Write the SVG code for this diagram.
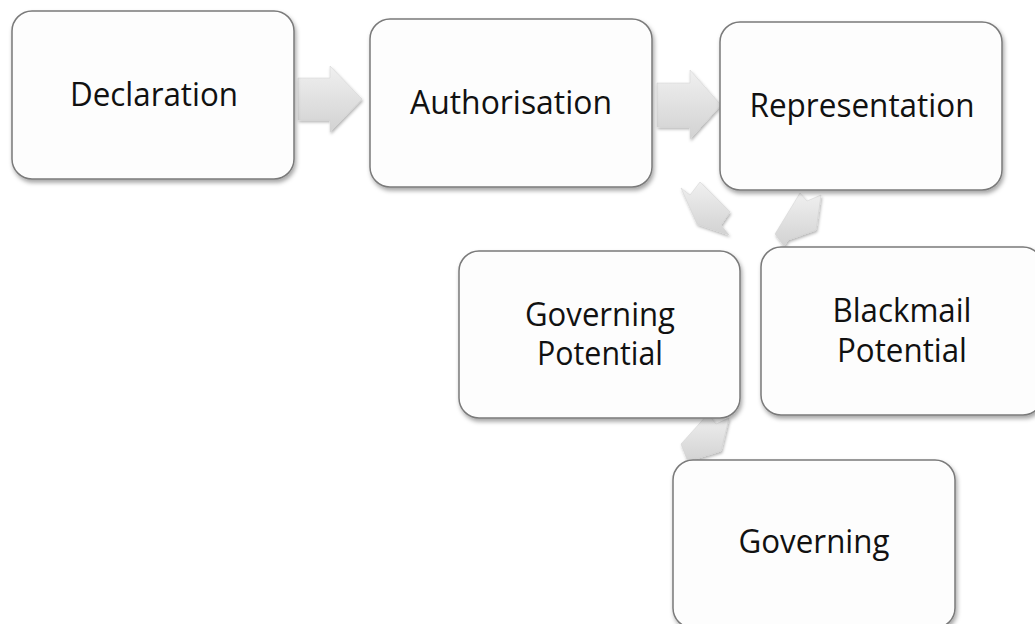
<svg xmlns="http://www.w3.org/2000/svg" width="1035" height="624" viewBox="0 0 1035 624">
<defs>
<filter id="sh" x="-10%" y="-10%" width="120%" height="130%">
<feDropShadow dx="1.5" dy="3" stdDeviation="2" flood-color="#000" flood-opacity="0.35"/>
</filter>
<filter id="ash" x="-20%" y="-20%" width="150%" height="150%">
<feDropShadow dx="1" dy="2" stdDeviation="1.5" flood-color="#000" flood-opacity="0.3"/>
</filter>
<linearGradient id="ag" x1="0" y1="0" x2="0" y2="1">
<stop offset="0" stop-color="#f0f0f0"/>
<stop offset="1" stop-color="#d2d2d2"/>
</linearGradient>
</defs>
<style>
.box{fill:#fdfdfd;stroke:#7a7a7a;stroke-width:1.5;filter:url(#sh)}
.arr{fill:url(#ag);stroke:#d0d0d0;stroke-width:0.5;filter:url(#ash)}
text{font-family:"Open Sans","Noto Sans","Liberation Sans",sans-serif;font-size:32px;fill:#111;text-anchor:middle}
</style>
<rect width="1035" height="624" fill="#ffffff"/>
<g id="connectors">
<polygon class="arr" points="298,78 330,78 330,66 362,99 330,132 330,120 298,120"/>
<polygon class="arr" points="657,83 690,83 690,70 721,105 690,139 690,127 657,127"/>
<polygon class="arr" points="681,188 690,195 700,182 730,212 721,225 729,235 697,224"/>
<polygon class="arr" points="775,234 800,193 807,201 821,195 816,230 788,240 784,246"/>
<polygon class="arr" points="681,444 708,414 716,424 729,418 721,451 695,459 688,462"/>
</g>
<g id="declaration">
<rect class="box" x="12" y="11" width="282" height="168" rx="20"/>
<text x="154" y="106" textLength="168" lengthAdjust="spacingAndGlyphs">Declaration</text>
</g>
<g id="authorisation">
<rect class="box" x="370" y="19" width="282" height="168" rx="20"/>
<text x="511" y="114" textLength="202" lengthAdjust="spacingAndGlyphs">Authorisation</text>
</g>
<g id="representation">
<rect class="box" x="720" y="22" width="282" height="168" rx="20"/>
<text x="862" y="117" textLength="225" lengthAdjust="spacingAndGlyphs">Representation</text>
</g>
<g id="governing-potential">
<rect class="box" x="459" y="251" width="281" height="167" rx="20"/>
<text x="600" y="326" textLength="150" lengthAdjust="spacingAndGlyphs">Governing</text>
<text x="600" y="365" textLength="126" lengthAdjust="spacingAndGlyphs">Potential</text>
</g>
<g id="blackmail-potential">
<rect class="box" x="761" y="247" width="282" height="168" rx="20"/>
<text x="902" y="322" textLength="139" lengthAdjust="spacingAndGlyphs">Blackmail</text>
<text x="902" y="362" textLength="130" lengthAdjust="spacingAndGlyphs">Potential</text>
</g>
<g id="governing">
<rect class="box" x="673" y="460" width="282" height="168" rx="20"/>
<text x="814" y="553" textLength="151" lengthAdjust="spacingAndGlyphs">Governing</text>
</g>
</svg>
